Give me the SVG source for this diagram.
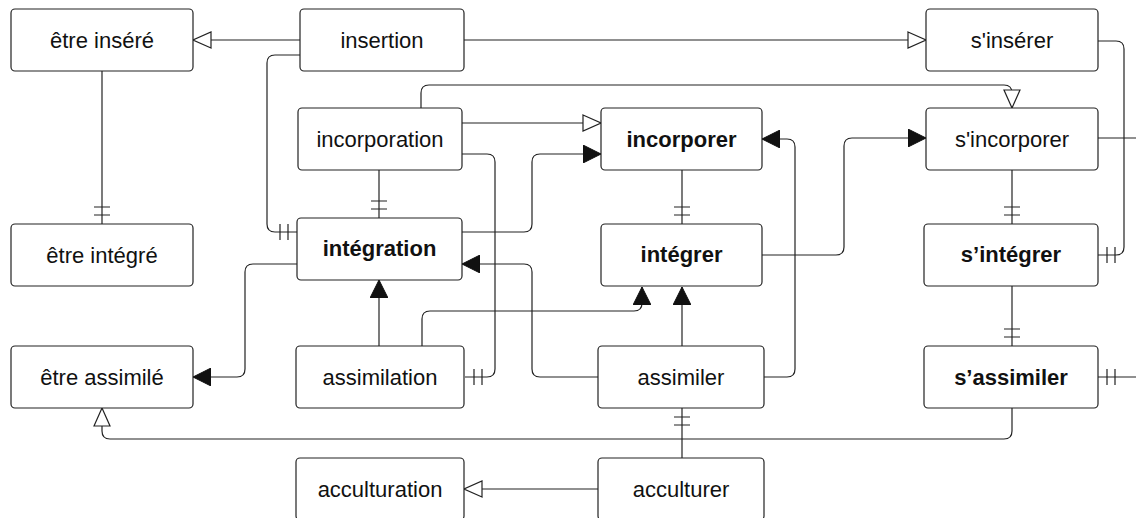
<svg xmlns="http://www.w3.org/2000/svg" width="1136" height="518" viewBox="0 0 1136 518">
<style>
  .node rect { fill: #ffffff; stroke: #222222; stroke-width: 1.2; }
  .node text { font-family: "Liberation Sans", Arial, Helvetica, sans-serif; font-size: 22px; fill: #111111; text-anchor: middle; }
  .node text.b { font-weight: bold; }
  .edge { fill: none; stroke: #222222; stroke-width: 1.2; }
</style>
<defs>
  <marker id="filled" markerUnits="userSpaceOnUse" viewBox="0 0 18 18" refX="18" refY="9" markerWidth="18" markerHeight="18" orient="auto">
    <path d="M0,0 L18,9 L0,18 Z" fill="#111111" stroke="#111111" stroke-width="1"/>
  </marker>
  <marker id="open" markerUnits="userSpaceOnUse" viewBox="-1 -1 20 20" refX="18" refY="9" markerWidth="20" markerHeight="20" orient="auto">
    <path d="M0,1 L18,9 L0,17 Z" fill="#ffffff" stroke="#222222" stroke-width="1.2"/>
  </marker>
  <marker id="bars" markerUnits="userSpaceOnUse" viewBox="0 0 20 20" refX="20" refY="10" markerWidth="20" markerHeight="20" orient="auto">
    <path d="M3,2 V18 M11,2 V18" fill="none" stroke="#222222" stroke-width="1.2"/>
  </marker>
</defs>
<rect width="1136" height="518" fill="#ffffff"/>
<g id="connectors">
  <path class="edge" d="M300,40 H193" marker-end="url(#open)"/>
  <path class="edge" d="M464,40 H926" marker-end="url(#open)"/>
  <path class="edge" d="M300,55 H275 Q267,55 267,63 V224 Q267,232 275,232 H297" marker-end="url(#bars)"/>
  <path class="edge" d="M102,71 V224" marker-end="url(#bars)"/>
  <path class="edge" d="M379,170 V218" marker-end="url(#bars)"/>
  <path class="edge" d="M462,123 H601" marker-end="url(#open)"/>
  <path class="edge" d="M421,108 V93 Q421,85 429,85 H1004 Q1012,85 1012,93 V108" marker-end="url(#open)"/>
  <path class="edge" d="M462,154 H487 Q495,154 495,162 V369 Q495,377 487,377 H465" marker-end="url(#bars)"/>
  <path class="edge" d="M462,232 H524 Q532,232 532,224 V162 Q532,154 540,154 H601" marker-end="url(#filled)"/>
  <path class="edge" d="M297,264 H253 Q245,264 245,272 V369 Q245,377 237,377 H193" marker-end="url(#filled)"/>
  <path class="edge" d="M379,346 V280" marker-end="url(#filled)"/>
  <path class="edge" d="M422,346 V319 Q422,311 430,311 H634 Q642,311 642,303 V287" marker-end="url(#filled)"/>
  <path class="edge" d="M682,346 V287" marker-end="url(#filled)"/>
  <path class="edge" d="M598,377 H540 Q532,377 532,369 V272 Q532,264 524,264 H462" marker-end="url(#filled)"/>
  <path class="edge" d="M764,377 H787 Q795,377 795,369 V147 Q795,139 787,139 H762" marker-end="url(#filled)"/>
  <path class="edge" d="M682,170 V224" marker-end="url(#bars)"/>
  <path class="edge" d="M762,255 H836 Q844,255 844,247 V146 Q844,138 852,138 H926" marker-end="url(#filled)"/>
  <path class="edge" d="M1098,41 H1116 Q1124,41 1124,49 V247 Q1124,255 1116,255 H1098" marker-end="url(#bars)"/>
  <path class="edge" d="M1098,138 H1136"/>
  <path class="edge" d="M1012,170 V224" marker-end="url(#bars)"/>
  <path class="edge" d="M1012,286 V346" marker-end="url(#bars)"/>
  <path class="edge" d="M1136,377 H1098" marker-end="url(#bars)"/>
  <path class="edge" d="M1012,408 V431 Q1012,439 1004,439 H110 Q102,439 102,431 V408" marker-end="url(#open)"/>
  <path class="edge" d="M682,458 V408" marker-end="url(#bars)"/>
  <path class="edge" d="M598,489 H464" marker-end="url(#open)"/>
</g>
<g id="node-etre-insere" class="node"><rect x="11" y="9" width="182" height="62" rx="4"/><text x="102" y="48">être inséré</text></g>
<g id="node-insertion" class="node"><rect x="300" y="9" width="164" height="62" rx="4"/><text x="382" y="48">insertion</text></g>
<g id="node-s-inserer" class="node"><rect x="926" y="9" width="172" height="62" rx="4"/><text x="1012" y="48">s'insérer</text></g>
<g id="node-incorporation" class="node"><rect x="298" y="108" width="164" height="62" rx="4"/><text x="380" y="147">incorporation</text></g>
<g id="node-incorporer" class="node"><rect x="601" y="108" width="161" height="62" rx="4"/><text class="b" x="681.5" y="147">incorporer</text></g>
<g id="node-s-incorporer" class="node"><rect x="926" y="108" width="172" height="62" rx="4"/><text x="1012" y="147">s'incorporer</text></g>
<g id="node-etre-integre" class="node"><rect x="11" y="224" width="182" height="62" rx="4"/><text x="102" y="263">être intégré</text></g>
<g id="node-integration" class="node"><rect x="297" y="218" width="165" height="62" rx="4"/><text class="b" x="379.5" y="256">intégration</text></g>
<g id="node-integrer" class="node"><rect x="601" y="224" width="161" height="62" rx="4"/><text class="b" x="681.5" y="262">intégrer</text></g>
<g id="node-s-integrer" class="node"><rect x="924" y="224" width="174" height="62" rx="4"/><text class="b" x="1011" y="262">s’intégrer</text></g>
<g id="node-etre-assimile" class="node"><rect x="11" y="346" width="182" height="62" rx="4"/><text x="102" y="385">être assimilé</text></g>
<g id="node-assimilation" class="node"><rect x="296" y="346" width="168" height="62" rx="4"/><text x="380" y="385">assimilation</text></g>
<g id="node-assimiler" class="node"><rect x="598" y="346" width="166" height="62" rx="4"/><text x="681" y="385">assimiler</text></g>
<g id="node-s-assimiler" class="node"><rect x="924" y="346" width="174" height="62" rx="4"/><text class="b" x="1011" y="385">s’assimiler</text></g>
<g id="node-acculturation" class="node"><rect x="296" y="458" width="168" height="62" rx="4"/><text x="380" y="497">acculturation</text></g>
<g id="node-acculturer" class="node"><rect x="598" y="458" width="166" height="62" rx="4"/><text x="681" y="497">acculturer</text></g>
</svg>
